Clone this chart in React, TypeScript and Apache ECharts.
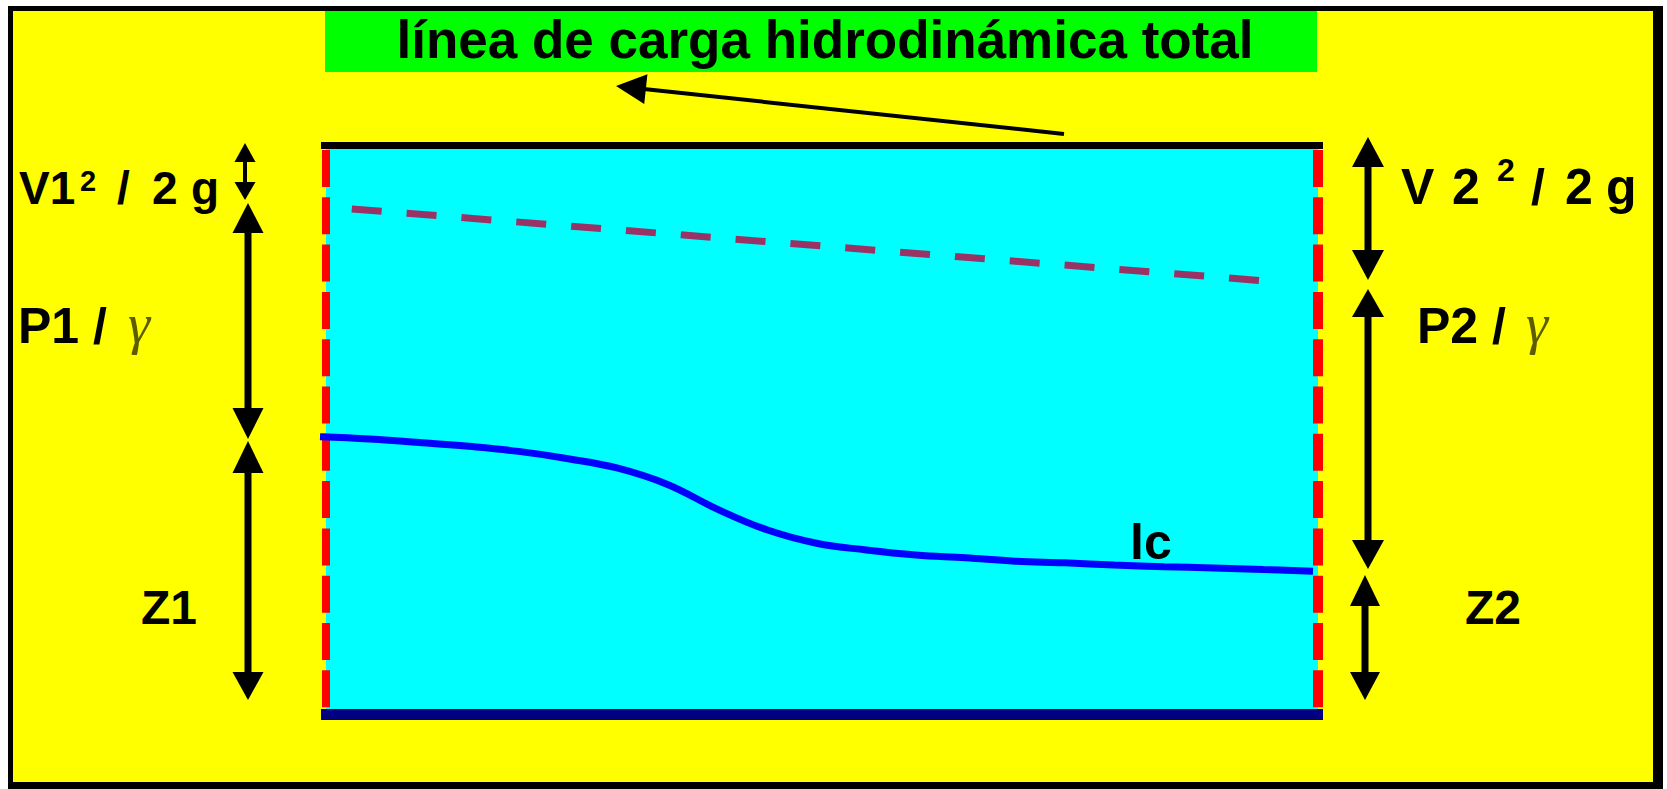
import React, { useEffect, useRef } from 'react';
import * as echarts from 'echarts';

// Piezometric line (lc): position along pipe (0..100) and head above datum (0..10)
const sectionX = [0, 5, 10, 15, 20, 25, 30, 35, 40, 45, 50, 55, 60, 65, 70, 75, 80, 85, 90, 95, 100];
const piezometricHead = [4.86, 4.82, 4.76, 4.69, 4.6, 4.47, 4.3, 4.01, 3.57, 3.2, 2.96, 2.84, 2.75, 2.7, 2.64, 2.61, 2.57, 2.54, 2.52, 2.49, 2.46];

// Total head line (dashed)
const energyX = [3.2, 95.5];
const energyHead = [8.93, 7.64];

const titleText = 'línea de carga hidrodinámica total';
const lcLabel = 'lc';

const SANS = '"Liberation Sans", Arial, sans-serif';
const SERIF = '"Liberation Serif", "Times New Roman", serif';

export default function App() {
  const ref = useRef<HTMLDivElement>(null);

  useEffect(() => {
    if (!ref.current) return;
    const chart = echarts.init(ref.current, null, { renderer: 'svg' });
    const g: any[] = [];

    const rect = (x: number, y: number, w: number, h: number, fill: string, z: number) =>
      g.push({ type: 'rect', shape: { x, y, width: w, height: h }, style: { fill }, z, silent: true });
    const line = (x1: number, y1: number, x2: number, y2: number, stroke: string, lineWidth: number, z: number, lineDash?: number[]) =>
      g.push({ type: 'line', shape: { x1, y1, x2, y2 }, style: { stroke, lineWidth, lineDash: lineDash || null }, z, silent: true });
    const poly = (points: number[][], z: number) =>
      g.push({ type: 'polygon', shape: { points }, style: { fill: '#000' }, z, silent: true });
    const text = (t: string, x: number, y: number, fs: number, opts: any = {}) =>
      g.push({
        type: 'text', x, y, z: 12, silent: true,
        style: {
          text: t, fontSize: fs, fontFamily: opts.family || SANS,
          fontWeight: opts.weight || 'bold', fontStyle: opts.style || 'normal',
          fill: opts.fill || '#000',
          align: opts.align || 'left', textAlign: opts.align || 'left',
          verticalAlign: 'middle', textVerticalAlign: 'middle',
        },
      });
    // vertical double arrow
    const vArrow = (x: number, yTop: number, yBot: number, hl1: number, hl2: number, hw: number, sw: number) => {
      line(x, yTop + hl1 - 1, x, yBot - hl2 + 1, '#000', sw, 10);
      poly([[x, yTop], [x - hw, yTop + hl1], [x + hw, yTop + hl1]], 10);
      poly([[x, yBot], [x - hw, yBot - hl2], [x + hw, yBot - hl2]], 10);
    };

    // outer frame
    rect(8, 6, 1655, 783, '#000', 0);
    rect(13, 11, 1640, 771, '#FFFF00', 0);
    // title box
    rect(325, 11, 992, 61, '#00FF00', 1);
    // pipe body
    rect(326, 149, 992, 560, '#00FFFF', 1);
    rect(321, 142, 1002, 7, '#000', 2);
    rect(321, 709, 1002, 11, '#000080', 2);
    // section walls (dashed red)
    line(326, 150, 326, 709, '#FF0000', 8, 2, [37, 10.3]);
    line(1318, 150, 1318, 709, '#FF0000', 10, 2, [37, 10.3]);

    // title arrow
    {
      const tx = 616, ty = 86, sx = 1064, sy = 134;
      const dx = tx - sx, dy = ty - sy;
      const len = Math.sqrt(dx * dx + dy * dy);
      const ux = dx / len, uy = dy / len;
      const hl = 30, hw = 15;
      const bx = tx - ux * hl, by = ty - uy * hl;
      line(sx, sy, bx + ux * 2, by + uy * 2, '#000', 4, 10);
      poly([[tx, ty], [bx - uy * hw, by + ux * hw], [bx + uy * hw, by - ux * hw]], 10);
    }

    // left arrows
    vArrow(245, 143, 200, 19, 18, 10.5, 4);
    vArrow(248, 203, 439, 30, 31, 15.5, 7);
    vArrow(248, 441, 700, 32, 28, 15.5, 7);
    // right arrows
    vArrow(1368, 137, 280, 30, 30, 16, 7);
    vArrow(1368, 289, 569, 28, 29, 16, 7);
    vArrow(1365, 575, 700, 31, 28, 15, 7);

    // title
    text(titleText, 825, 39, 53, { align: 'center' });

    // V1^2 / 2 g
    const v1y = 204 - 0.3465 * 46;
    text('V1', 19, v1y, 46);
    text('2', 80, 181, 29);
    text('/', 117, v1y, 46);
    text('2', 152, v1y, 46);
    text('g', 191, v1y, 46);

    // V 2 ^2 / 2 g
    const v2y = 204 - 0.3465 * 50;
    text('V', 1401, v2y, 50);
    text('2', 1452, v2y, 50);
    text('2', 1497, 170, 32);
    text('/', 1531, v2y, 50);
    text('2', 1565, v2y, 50);
    text('g', 1606, v2y, 50);

    // P / gamma
    const py = 343 - 0.3465 * 50;
    const gy = 343 - 0.3375 * 56;
    text('P1 /', 18, py, 50);
    text('γ', 128, gy, 56, { family: SERIF, weight: 'normal', style: 'italic', fill: '#5c5c00' });
    text('P2 /', 1417, py, 50);
    text('γ', 1526, gy, 56, { family: SERIF, weight: 'normal', style: 'italic', fill: '#5c5c00' });

    // Z labels
    const zy = 624 - 0.3465 * 48;
    text('Z1', 141, zy, 48);
    text('Z2', 1465, zy, 48);

    // lc label
    text(lcLabel, 1130, 559 - 0.3465 * 50, 50);

    chart.setOption({
      animation: false,
      grid: { left: 320, right: 354, top: 149, bottom: 80, show: false },
      xAxis: { type: 'value', min: 0, max: 100, show: false },
      yAxis: { type: 'value', min: 0, max: 10, show: false },
      series: [
        {
          type: 'line',
          name: 'lc',
          data: sectionX.map((x, i) => [x, piezometricHead[i]]),
          smooth: 0.4,
          symbol: 'none',
          clip: false,
          z: 5,
          lineStyle: { color: '#0000FF', width: 7 },
        },
        {
          type: 'line',
          name: 'total',
          data: energyX.map((x, i) => [x, energyHead[i]]),
          symbol: 'none',
          clip: false,
          z: 5,
          lineStyle: { color: '#993366', width: 7, type: [30, 25] },
        },
      ],
      graphic: g,
    });

    return () => chart.dispose();
  }, []);

  return (
    <div
      ref={ref}
      style={{ position: 'fixed', left: 0, top: 0, width: 1667, height: 789, background: '#fff' }}
    />
  );
}
